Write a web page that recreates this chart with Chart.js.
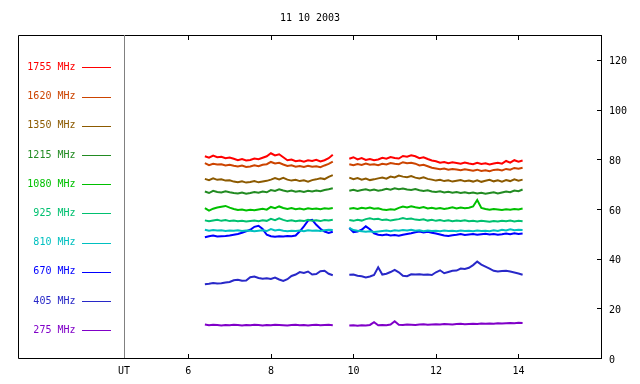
<!DOCTYPE html>
<html>
<head>
<meta charset="utf-8">
<script src="https://cdn.jsdelivr.net/npm/chart.js@4/dist/chart.umd.min.js"></script>
<style>
html,body{margin:0;padding:0;background:#fff;}
#c{display:block;}
</style>
</head>
<body>
<canvas id="c" width="640" height="384"></canvas>
<script>
const titleText = '11 10 2003';
const times = [6.4,6.5,6.6,6.7,6.8,6.9,7.0,7.1,7.2,7.3,7.4,7.5,7.6,7.7,7.8,7.9,8.0,8.1,8.2,8.3,8.4,8.5,8.6,8.7,8.8,8.9,9.0,9.1,9.2,9.3,9.4,9.5,
  9.7,
  9.9,10.0,10.1,10.2,10.3,10.4,10.5,10.6,10.7,10.8,10.9,11.0,11.1,11.2,11.3,11.4,11.5,11.6,11.7,11.8,11.9,12.0,12.1,12.2,12.3,12.4,12.5,12.6,12.7,12.8,12.9,13.0,13.1,13.2,13.3,13.4,13.5,13.6,13.7,13.8,13.9,14.0,14.1];

const s1755 = [81.2,80.6,81.5,80.8,81.0,80.4,80.7,80.2,79.6,80.1,79.5,79.7,80.3,80.0,80.6,81.2,82.4,81.5,82.0,80.8,79.6,79.9,79.2,79.5,79.0,79.6,79.3,79.8,79.1,79.6,80.4,81.8,
  null,
  80.2,80.8,79.9,80.5,79.7,80.1,79.6,79.9,80.6,80.2,80.9,80.5,80.3,81.3,81.0,81.6,81.2,80.4,80.8,80.1,79.5,79.2,78.6,78.9,78.4,78.8,78.5,78.2,78.7,78.3,78.0,78.6,78.1,78.4,77.9,78.3,78.6,78.2,79.3,78.6,79.6,79.0,79.5];
const s1620 = [78.4,77.6,78.2,77.9,78.0,77.5,77.8,77.4,77.1,77.5,76.9,77.1,77.6,77.2,77.8,78.0,78.9,78.3,78.6,77.9,77.3,77.6,77.0,77.3,76.9,77.4,77.0,77.2,76.8,77.5,78.1,79.0,
  null,
  78.0,77.6,78.1,77.7,78.3,77.8,78.0,77.6,78.2,77.9,78.5,78.2,78.0,78.8,78.4,78.6,78.2,77.5,77.8,77.2,76.6,76.3,76.0,76.3,75.8,76.1,75.9,75.6,76.0,75.7,75.4,75.8,75.3,75.6,75.2,75.7,75.9,75.5,76.1,75.8,76.5,76.2,76.6];
const s1350 = [72.1,71.6,72.3,71.7,71.9,71.4,71.5,71.0,70.7,71.1,70.6,70.8,71.2,70.7,71.0,71.3,71.8,72.4,71.9,72.5,71.8,71.4,71.7,71.2,71.5,71.0,71.6,71.9,72.3,72.0,72.9,73.6,
  null,
  72.6,72.0,72.4,71.8,72.2,71.6,71.9,72.3,72.6,72.2,73.0,72.7,73.4,73.0,72.8,73.2,72.6,72.3,72.7,72.1,71.8,71.4,71.7,71.2,71.5,71.0,71.3,71.6,71.1,71.4,71.0,71.5,70.9,71.3,71.7,71.1,71.5,71.0,71.6,71.2,71.9,71.4,71.8];
const s1215 = [67.0,66.4,67.3,66.8,66.6,67.1,66.7,66.4,66.2,66.6,66.1,66.4,66.8,66.5,67.0,66.7,67.6,67.2,67.9,67.4,67.0,67.4,66.9,67.2,66.8,67.3,67.0,67.4,67.1,67.6,67.9,68.3,
  null,
  67.3,67.7,67.2,67.6,67.9,67.4,67.8,67.3,67.6,68.1,67.7,68.3,67.9,68.2,67.8,67.6,68.0,67.5,67.2,67.5,67.0,66.8,67.1,66.6,66.9,66.5,66.8,66.4,66.7,66.3,66.6,66.2,66.5,66.1,66.4,66.7,66.2,66.6,67.0,66.7,67.4,67.1,67.8];
const s1080 = [60.3,59.3,60.1,60.6,60.9,61.2,60.5,60.0,59.6,59.8,59.4,59.7,59.5,59.8,60.1,59.7,60.8,60.3,61.0,60.4,60.0,60.4,59.9,60.2,59.8,60.3,60.0,60.2,59.9,60.3,60.1,60.4,
  null,
  60.1,60.4,60.0,60.5,60.2,60.6,60.1,60.3,59.8,59.6,59.9,59.7,60.4,61.0,60.6,61.1,60.7,60.4,60.8,60.2,60.5,60.1,60.4,60.0,60.3,60.7,60.2,60.6,60.3,60.5,61.0,63.6,60.4,60.0,59.7,60.0,59.8,59.6,59.9,59.7,60.0,59.8,60.2];
const s925 = [55.4,55.0,55.3,55.6,55.2,55.5,55.1,55.3,55.0,55.2,54.9,55.1,55.3,55.0,55.4,55.2,56.0,55.5,56.2,55.6,55.1,55.4,55.0,55.3,55.1,55.6,55.2,55.4,55.1,55.5,55.3,55.6,
  null,
  55.5,55.2,55.6,55.3,55.9,56.2,55.8,56.0,55.5,55.7,55.3,55.6,55.9,56.3,55.9,56.1,55.7,55.5,55.8,55.3,55.6,55.2,55.5,55.1,55.4,55.0,55.3,55.1,55.4,55.0,55.2,54.9,55.2,55.0,54.8,55.1,54.9,55.2,55.0,55.3,54.9,55.2,55.0];
const s810 = [51.6,51.2,51.5,51.3,51.4,51.1,51.3,51.2,51.4,51.1,51.3,51.2,51.0,51.2,51.4,51.1,51.9,51.3,51.6,51.2,51.0,51.2,51.1,51.3,51.0,51.4,51.2,51.3,51.1,51.4,51.6,51.5,
  null,
  52.4,51.5,51.2,51.0,50.8,51.0,50.7,50.9,51.1,51.3,51.0,51.4,51.2,51.5,51.3,51.6,51.2,51.4,51.0,51.3,51.1,51.2,51.0,51.3,51.1,51.2,51.0,51.3,51.1,51.2,51.0,51.3,51.1,51.2,51.0,51.4,51.1,51.6,51.3,51.8,51.4,51.6,51.5];
const s670 = [48.6,49.0,49.3,48.9,49.0,49.1,49.3,49.6,49.9,50.4,51.0,51.6,52.8,53.2,51.9,49.6,49.0,48.8,49.0,48.9,49.1,49.0,49.3,51.0,53.0,55.3,55.6,53.6,52.0,50.9,50.3,50.8,
  null,
  52.3,50.6,50.9,51.6,53.0,51.8,50.2,49.6,49.4,49.7,49.3,49.5,49.2,49.6,49.9,50.2,50.6,50.9,50.5,50.8,50.4,50.1,49.7,49.3,49.1,49.4,49.6,49.9,49.5,49.7,49.9,49.6,49.8,50.0,49.7,49.9,49.6,49.8,50.1,49.8,50.2,49.9,50.1];
const s405 = [29.7,29.9,30.2,30.0,30.1,30.4,30.6,31.3,31.5,31.1,31.2,32.5,32.8,32.2,31.9,32.1,31.8,32.4,31.6,31.0,31.7,33.0,33.6,34.6,34.2,34.8,33.6,33.8,34.9,35.1,33.9,33.3,
  null,
  33.5,33.6,33.1,32.9,32.4,32.8,33.4,36.5,33.6,33.9,34.6,35.5,34.5,33.1,32.9,33.7,33.6,33.7,33.5,33.6,33.4,34.5,35.3,34.1,34.6,35.1,35.2,36.0,35.8,36.3,37.4,38.8,37.6,36.8,36.0,35.1,34.8,35.0,35.1,34.8,34.4,34.0,33.5];
const s275 = [13.5,13.2,13.4,13.3,13.1,13.3,13.2,13.4,13.3,13.1,13.3,13.2,13.4,13.3,13.1,13.3,13.2,13.4,13.3,13.2,13.1,13.3,13.4,13.2,13.3,13.1,13.3,13.4,13.2,13.3,13.4,13.2,
  null,
  13.1,13.2,13.0,13.2,13.1,13.3,14.4,13.2,13.3,13.2,13.5,14.8,13.4,13.3,13.5,13.4,13.3,13.5,13.6,13.4,13.5,13.6,13.5,13.7,13.6,13.5,13.7,13.8,13.6,13.7,13.8,13.7,13.9,13.8,13.9,13.8,14.0,13.9,14.0,14.1,14.0,14.2,14.1];

const seriesLabels = ['1755 MHz','1620 MHz','1350 MHz','1215 MHz','1080 MHz','925 MHz','810 MHz','670 MHz','405 MHz','275 MHz'];
const seriesValues = [s1755,s1620,s1350,s1215,s1080,s925,s810,s670,s405,s275];
const seriesColors = ['#ff0000','#cc4400','#8c5a00','#228b22','#00c000','#00c070','#00c0c0','#0000ff','#2828c8','#8000c8'];

const xMin = 4.44, xMax = 16;
const xTicks = [6,8,10,12,14];
const yMin = 0, yMax = 130;
const yTicks = [0,20,40,60,80,100,120];

const FONT = 'DejaVu Sans Mono';
Chart.defaults.font.family = FONT;
Chart.defaults.font.size = 10;
Chart.defaults.color = '#000';

const datasets = seriesLabels.map((lab, k) => ({
  label: lab,
  data: times.map((t, i) => ({x: t, y: seriesValues[k][i]})),
  borderColor: seriesColors[k],
  backgroundColor: seriesColors[k],
  borderWidth: 2,
  pointRadius: 0,
  tension: 0,
  spanGaps: false,
  fill: false
}));

const decor = {
  id: 'decor',
  afterDraw(chart) {
    const ctx = chart.ctx;
    const ca = chart.chartArea;
    const xs = chart.scales.x, ys = chart.scales.y;
    ctx.save();
    ctx.strokeStyle = '#000';
    ctx.lineWidth = 1;
    ctx.beginPath();
    ctx.moveTo(18.5, Math.round(ca.top) + 0.5);
    ctx.lineTo(Math.round(ca.right) + 0.5, Math.round(ca.top) + 0.5);
    ctx.moveTo(18.5, Math.round(ca.top) + 0.5);
    ctx.lineTo(18.5, Math.round(ca.bottom) + 0.5);
    ctx.lineTo(Math.round(ca.left) + 0.5, Math.round(ca.bottom) + 0.5);
    ctx.stroke();
    ctx.strokeStyle = '#808080';
    ctx.beginPath();
    ctx.moveTo(Math.round(ca.left) + 0.5, Math.round(ca.top));
    ctx.lineTo(Math.round(ca.left) + 0.5, Math.round(ca.bottom));
    ctx.stroke();
    ctx.strokeStyle = '#000';
    ctx.beginPath();
    xTicks.forEach(v => {
      const px = Math.round(xs.getPixelForValue(v)) + 0.5;
      ctx.moveTo(px, Math.round(ca.bottom));
      ctx.lineTo(px, Math.round(ca.bottom) - 4);
      ctx.moveTo(px, Math.round(ca.top));
      ctx.lineTo(px, Math.round(ca.top) + 5);
    });
    yTicks.forEach(v => {
      if (v === 0) return;
      const py = Math.round(ys.getPixelForValue(v)) + 0.5;
      ctx.moveTo(Math.round(ca.right), py);
      ctx.lineTo(Math.round(ca.right) - 4, py);
    });
    ctx.stroke();
    ctx.fillStyle = '#000';
    ctx.font = '10px "' + FONT + '"';
    ctx.textAlign = 'center';
    ctx.textBaseline = 'middle';
    ctx.fillText(titleText, 310, 18);
    const y0 = 67.3, step = 29.22;
    chart.data.datasets.forEach((ds, i) => {
      const y = y0 + i * step;
      ctx.fillStyle = ds.borderColor;
      ctx.textAlign = 'right';
      ctx.fillText(ds.label, 75.5, y);
      ctx.strokeStyle = ds.borderColor;
      ctx.beginPath();
      ctx.moveTo(82, Math.round(y) + 0.5);
      ctx.lineTo(111, Math.round(y) + 0.5);
      ctx.stroke();
    });
    ctx.restore();
  }
};

new Chart(document.getElementById('c'), {
  type: 'line',
  data: { datasets },
  options: {
    responsive: false,
    animation: false,
    events: [],
    layout: { padding: { left: 124, top: 35, right: 0, bottom: 0 } },
    plugins: { legend: { display: false }, title: { display: false }, tooltip: { enabled: false } },
    scales: {
      x: {
        type: 'linear',
        min: xMin, max: xMax,
        afterBuildTicks: s => { s.ticks = [{value: xMin}].concat(xTicks.map(v => ({value: v}))); },
        afterFit: s => { s.height = 26; },
        grid: { display: false, drawTicks: false },
        border: { display: true, color: '#000', width: 1 },
        ticks: {
          padding: 7,
          autoSkip: false,
          maxRotation: 0,
          color: '#000',
          callback: v => (v === xMin ? 'UT' : String(v))
        }
      },
      y: {
        type: 'linear',
        position: 'right',
        min: yMin, max: yMax,
        afterBuildTicks: s => { s.ticks = yTicks.map(v => ({value: v})); },
        afterFit: s => { s.width = 39; },
        grid: { display: false, drawTicks: false },
        border: { display: true, color: '#000', width: 1 },
        ticks: { padding: 8, color: '#000', labelOffset: 2, callback: v => String(v) }
      }
    }
  },
  plugins: [decor]
});
</script>
</body>
</html>
